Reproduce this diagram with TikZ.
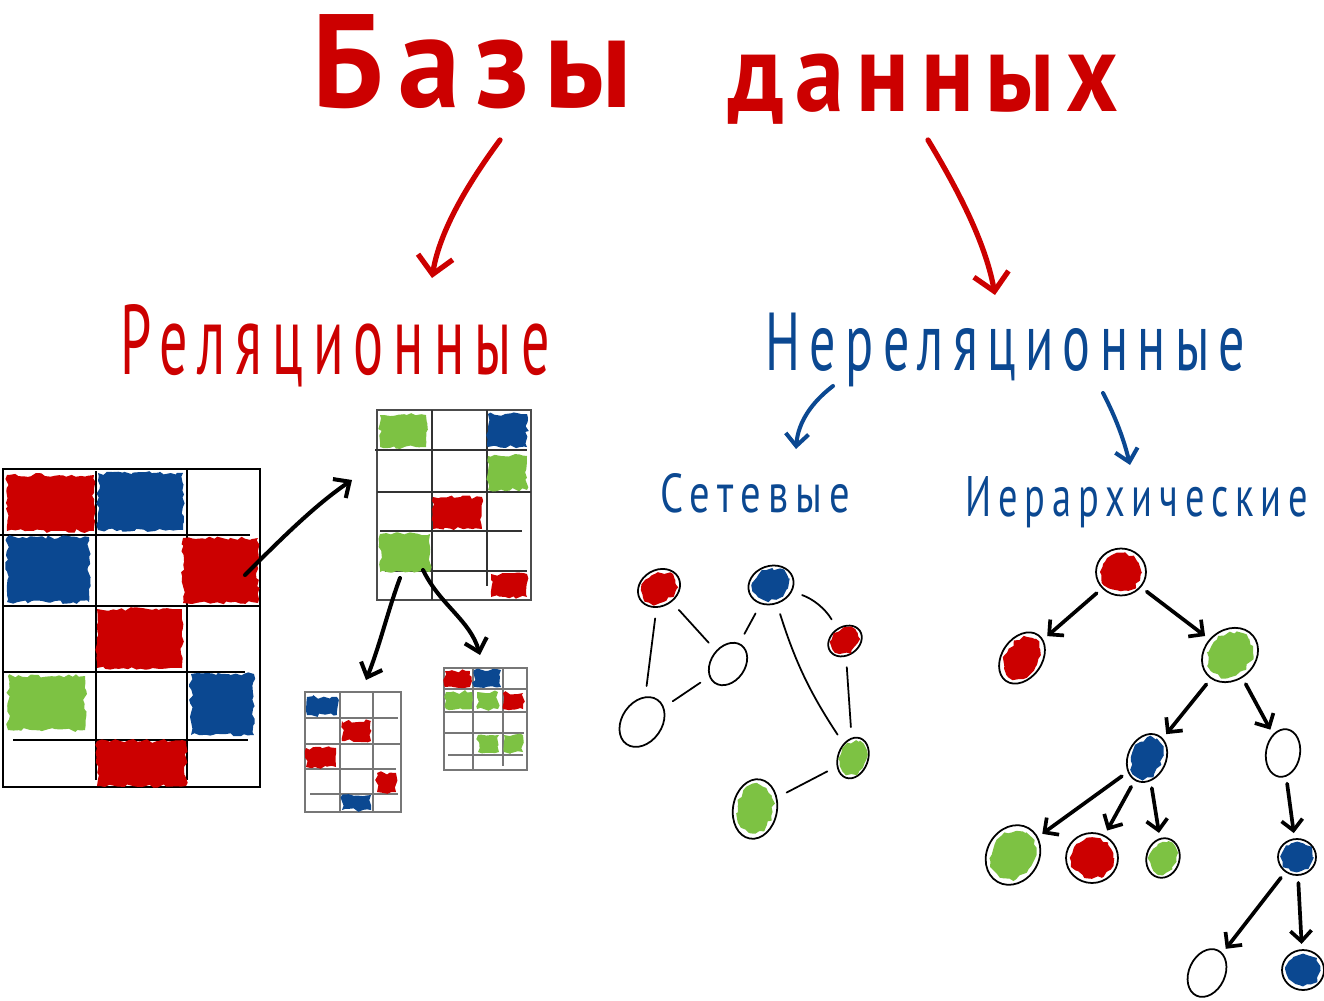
\documentclass[tikz,border=0pt]{standalone}
\usepackage{fontspec}
\usepackage{graphicx}
\setmainfont{PT Sans}
\newfontfamily\handfont[LetterSpace=12]{PT Sans}
\newfontfamily\subfont[LetterSpace=18]{PT Sans}
\usetikzlibrary{shapes.geometric,arrows.meta,decorations.pathmorphing,calc}
\definecolor{hred}{HTML}{CC0000}
\definecolor{hblue}{HTML}{0B4891}
\definecolor{hgreen}{HTML}{7DC243}
\definecolor{gline}{HTML}{777777}
\tikzset{
  blobfill/.style={decorate, decoration={random steps, segment length=2.5pt, amplitude=1.1pt}},
  cnode/.style={ellipse, draw=black, line width=1pt, inner sep=0pt},
  gbig/.style={draw=black, line width=1.1pt},
  gmid/.style={draw=black!80, line width=0.8pt},
  gsmall/.style={draw=gline, line width=0.6pt},
  blkarrow/.style={draw=black, line width=2.3pt, line cap=round, -{Straight Barb[length=7pt,width=13pt]}},
  redarrow/.style={draw=hred, line width=3pt, line cap=round, -{Straight Barb[length=10pt,width=20pt]}},
  bluearrow/.style={draw=hblue, line width=2.3pt, line cap=round, -{Straight Barb[length=7pt,width=13pt]}},
  harrow/.style={draw=black, line width=2.1pt, line cap=round, shorten <=4pt, shorten >=3pt, -{Straight Barb[length=6pt,width=12pt]}},
  netline/.style={draw=black, line width=1pt, line cap=round, shorten <=6pt, shorten >=6pt},
}
\newcommand{\rblob}[5]{\fill[#1, blobfill] (#2,#3) rectangle (#4,#5);}
% name, x, y, width(cm), height(cm), rotate, fill options
\newcommand{\hnode}[7]{%
  \node[cnode, minimum width=#4cm, minimum height=#5cm, rotate=#6] (#1) at (#2,#3) {};
  \path[#7, blobfill, rotate around={#6:(#1.center)}] (#1.center) ellipse [x radius={0.41*#4cm}, y radius={0.40*#5cm}];
}
\begin{document}
\begin{tikzpicture}[x=0.02cm, y=-0.02cm]
\useasboundingbox (0,0) rectangle (1324,1000);

% ---------- titles ----------
\node[anchor=base west, inner sep=0, text=hred] (tbazy) at (312,108) {\resizebox{6.4cm}{1.86cm}{\handfont\bfseries Базы}};
\node[anchor=base west, inner sep=0, text=hred] (tdannyh) at (728,112) {\resizebox{7.8cm}{1.15cm}{\handfont\bfseries данных}};
\node[anchor=base west, inner sep=0, text=hred] (trel) at (120,374) {\resizebox{8.6cm}{1.4cm}{\subfont Реляционные}};
\node[anchor=base west, inner sep=0, text=hblue] (tnonrel) at (765,370) {\resizebox{9.6cm}{1.15cm}{\subfont Нереляционные}};
\node[anchor=base west, inner sep=0, text=hblue] (tnet) at (660,512) {\resizebox{3.8cm}{0.78cm}{\subfont Сетевые}};
\node[anchor=base west, inner sep=0, text=hblue] (thier) at (965,516) {\resizebox{6.86cm}{0.8cm}{\subfont Иерархические}};

% ---------- title arrows ----------
\coordinate (ra1) at (500,140); \coordinate (ra2) at (432,278);
\coordinate (rb1) at (928,140); \coordinate (rb2) at (995,295);
\draw[redarrow] (ra1) .. controls (472,178) and (440,228) .. (ra2);
\draw[redarrow] (rb1) .. controls (955,185) and (985,240) .. (rb2);
\coordinate (ba1) at (833,386); \coordinate (ba2) at (796,449);
\coordinate (bb1) at (1103,393); \coordinate (bb2) at (1130,465);
\draw[bluearrow] (ba1) .. controls (812,402) and (798,422) .. (ba2);
\draw[bluearrow] (bb1) .. controls (1116,418) and (1124,440) .. (bb2);

% ---------- big table ----------
\node[gbig, minimum width=5.14cm, minimum height=6.36cm, inner sep=0] (g1) at (131.5,628) {};
\draw[gbig] (96,471) -- (96,780);
\draw[gbig] (187,469) -- (187,780);
\draw[gbig] (0,535) -- (250,535);
\draw[gbig] (3,606) -- (260,606);
\draw[gbig] (3,672) -- (245,672);
\draw[gbig] (13,740) -- (248,740);
\rblob{hred}{7}{475}{94}{531}
\rblob{hblue}{98}{473}{183}{530}
\rblob{hblue}{7}{537}{89}{602}
\rblob{hred}{183}{538}{258}{603}
\rblob{hred}{97}{609}{182}{668}
\rblob{hgreen}{8}{676}{85}{730}
\rblob{hblue}{191}{674}{254}{735}
\rblob{hred}{97}{741}{186}{786}

% ---------- table 2 ----------
\node[draw=black!70, line width=1.1pt, minimum width=3.08cm, minimum height=3.8cm, inner sep=0] (g2) at (454,505) {};
\draw[gmid] (432,410) -- (432,600);
\draw[gmid] (487,410) -- (487,586);
\draw[gmid] (375,450) -- (527,450);
\draw[gmid] (377,492) -- (531,492);
\draw[gmid] (380,531) -- (522,531);
\draw[gmid] (385,571) -- (527,571);
\rblob{hgreen}{380}{415}{426}{447}
\rblob{hblue}{488}{414}{527}{447}
\rblob{hgreen}{488}{456}{527}{490}
\rblob{hred}{433}{497}{482}{529}
\rblob{hgreen}{380}{534}{430}{572}
\rblob{hred}{491}{574}{527}{597}

% ---------- table 3 ----------
\node[gsmall, minimum width=1.92cm, minimum height=2.4cm, inner sep=0] (g3) at (353,752) {};
\draw[gsmall] (340,692) -- (340,812);
\draw[gsmall] (373,692) -- (373,812);
\draw[gsmall] (305,718) -- (398,718);
\draw[gsmall] (305,744) -- (401,744);
\draw[gsmall] (305,769) -- (396,769);
\draw[gsmall] (310,794) -- (398,794);
\rblob{hblue}{307}{697}{337}{715}
\rblob{hred}{342}{721}{371}{741}
\rblob{hred}{306}{748}{336}{767}
\rblob{hred}{377}{773}{396}{792}
\rblob{hblue}{342}{795}{371}{810}

% ---------- table 4 ----------
\node[gsmall, minimum width=1.66cm, minimum height=2.04cm, inner sep=0] (g4) at (485.5,719) {};
\draw[gsmall] (473,668) -- (473,770);
\draw[gsmall] (503,668) -- (503,766);
\draw[gsmall] (444,689) -- (527,689);
\draw[gsmall] (444,712) -- (527,712);
\draw[gsmall] (444,733) -- (524,733);
\draw[gsmall] (448,755) -- (523,755);
\rblob{hred}{445}{671}{470}{687}
\rblob{hblue}{474}{670}{501}{687}
\rblob{hgreen}{446}{692}{472}{709}
\rblob{hgreen}{477}{692}{498}{709}
\rblob{hred}{503}{693}{523}{709}
\rblob{hgreen}{478}{735}{499}{752}
\rblob{hgreen}{504}{735}{523}{752}

% ---------- table arrows ----------
\coordinate (a1s) at (245,575); \coordinate (a1e) at (352,480);
\coordinate (a2s) at (400,578); \coordinate (a2e) at (366,680);
\coordinate (a3s) at (423,570); \coordinate (a3e) at (480,655);
\draw[blkarrow] (a1s) .. controls (280,540) and (315,505) .. (a1e);
\draw[blkarrow] (a2s) .. controls (388,610) and (380,645) .. (a2e);
\draw[blkarrow] (a3s) .. controls (440,605) and (470,620) .. (a3e);

% ---------- network ----------
\hnode{n1}{659}{588}{0.88}{0.72}{30}{fill=hred}
\hnode{n2}{771}{585}{0.92}{0.76}{20}{fill=hblue}
\hnode{n3}{845}{641}{0.72}{0.56}{35}{fill=hred}
\hnode{n4}{728}{664}{0.92}{0.68}{55}{fill=none}
\hnode{n5}{642}{722}{1.08}{0.80}{55}{fill=none}
\hnode{n6}{853}{758}{0.84}{0.60}{70}{fill=hgreen}
\hnode{n7}{755}{809}{1.20}{0.88}{80}{fill=hgreen}
\draw[netline] (n1) -- (n5);
\draw[netline] (n1) -- (n4);
\draw[netline] (n4) -- (n2);
\draw[netline] (n5) -- (n4);
\draw[netline] (n2) to[bend left=20] (n3);
\draw[netline] (n2) to[bend right=8] (n6);
\draw[netline] (n3) -- (n6);
\draw[netline] (n7) -- (n6);

% ---------- hierarchy ----------
\hnode{h1}{1121}{572}{1.00}{0.94}{0}{fill=hred}
\hnode{h2}{1022}{658}{1.12}{0.80}{55}{fill=hred}
\hnode{h3}{1230}{655}{1.20}{1.00}{40}{fill=hgreen}
\hnode{h4}{1147}{758}{1.00}{0.76}{65}{fill=hblue}
\hnode{h5}{1283}{753}{0.96}{0.68}{80}{fill=none}
\hnode{h6}{1013}{855}{1.24}{1.04}{60}{fill=hgreen}
\hnode{h7}{1092}{858}{1.04}{1.00}{0}{fill=hred}
\hnode{h8}{1163}{858}{0.80}{0.66}{75}{fill=hgreen}
\hnode{h9}{1297}{857}{0.76}{0.72}{0}{fill=hblue}
\hnode{h10}{1207}{973}{1.00}{0.72}{65}{fill=none}
\hnode{h11}{1303}{970}{0.84}{0.80}{0}{fill=hblue}
\draw[harrow] (h1) -- (h2);
\draw[harrow] (h1) -- (h3);
\draw[harrow] (h3) -- (h4);
\draw[harrow] (h3) -- (h5);
\draw[harrow] (h4) -- (h6);
\draw[harrow] (h4) -- (h7);
\draw[harrow] (h4) -- (h8);
\draw[harrow] (h5) -- (h9);
\draw[harrow] (h9) -- (h10);
\draw[harrow] (h9) -- (h11);
\end{tikzpicture}
\end{document}
